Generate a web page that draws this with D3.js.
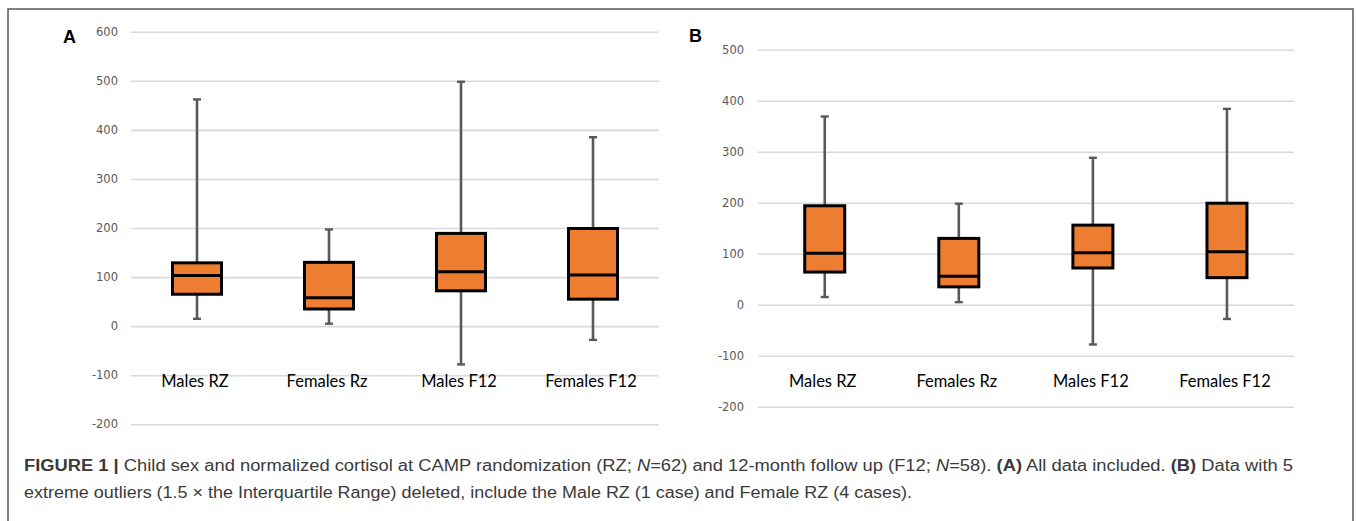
<!DOCTYPE html>
<html>
<head>
<meta charset="utf-8">
<script src="https://cdn.jsdelivr.net/npm/d3@7"></script>
<style>
  html, body { margin: 0; padding: 0; background: #fff; }
  svg { display: block; }
</style>
</head>
<body>
<svg id="chart" width="1357" height="521"></svg>
<script>
// ---- Data ----
const categories = ["Males RZ", "Females Rz", "Males F12", "Females F12"];

// Panel A: all data included
const aMin    = [15, 5, -78, -28];
const aQ1     = [65, 35, 72, 55];
const aMedian = [103, 58, 111, 104];
const aQ3     = [129, 130, 189, 199];
const aMax    = [462, 197, 498, 385];
const aTicks  = [-200, -100, 0, 100, 200, 300, 400, 500, 600];

// Panel B: extreme outliers deleted
const bMin    = [15, 5, -78, -28];
const bQ1     = [64, 35, 72, 53];
const bMedian = [101, 56, 102, 104];
const bQ3     = [194, 130, 156, 199];
const bMax    = [369, 198, 288, 384];
const bTicks  = [-200, -100, 0, 100, 200, 300, 400, 500];

const svg = d3.select("#chart");

// Outer frame (open at bottom)
svg.append("path")
  .attr("d", "M8,521 L8,9 L1353,9 L1353,521")
  .attr("fill", "none")
  .attr("stroke", "#555")
  .attr("stroke-width", 1.5);

function drawPanel(opt) {
  const g = svg.append("g");
  const y = d3.scaleLinear().domain(opt.domain).range(opt.yRange);
  const x = d3.scaleBand().domain(categories).range(opt.xRange);

  // gridlines + tick labels via axis
  const axis = d3.axisLeft(y).tickValues(opt.ticks)
    .tickSize(-(opt.xRange[1] - opt.xRange[0]))
    .tickPadding(opt.xRange[0] - opt.labelRight)
    .tickFormat(d => String(d));
  const ag = g.append("g")
    .attr("transform", `translate(${opt.xRange[0]},0)`)
    .call(axis);
  ag.select(".domain").remove();
  ag.selectAll(".tick line")
    .attr("stroke", "#d9d9d9")
    .attr("stroke-width", 1.6);
  ag.selectAll(".tick text")
    .attr("fill", "#595959")
    .attr("font-family", "DejaVu Sans, sans-serif")
    .attr("font-size", 11.5);

  const data = categories.map((c, i) => ({
    c, min: opt.min[i], q1: opt.q1[i], med: opt.med[i], q3: opt.q3[i], max: opt.max[i]
  }));

  const cx = d => x(d.c) + x.bandwidth() / 2;

  // whiskers
  g.selectAll(".whisker").data(data).enter().append("line")
    .attr("x1", cx).attr("x2", cx)
    .attr("y1", d => y(d.max)).attr("y2", d => y(d.min))
    .attr("stroke", "#595959").attr("stroke-width", 2.6);
  // caps
  ["max", "min"].forEach(k => {
    g.selectAll(".cap-" + k).data(data).enter().append("line")
      .attr("x1", d => cx(d) - 4).attr("x2", d => cx(d) + 4)
      .attr("y1", d => y(d[k])).attr("y2", d => y(d[k]))
      .attr("stroke", "#595959").attr("stroke-width", 2.4);
  });
  // boxes
  g.selectAll(".box").data(data).enter().append("rect")
    .attr("x", d => cx(d) - opt.boxW / 2)
    .attr("width", opt.boxW)
    .attr("y", d => y(d.q3))
    .attr("height", d => y(d.q1) - y(d.q3))
    .attr("fill", "#ED7D31")
    .attr("stroke", "#000")
    .attr("stroke-width", 3);
  // medians
  g.selectAll(".median").data(data).enter().append("line")
    .attr("x1", d => cx(d) - opt.boxW / 2).attr("x2", d => cx(d) + opt.boxW / 2)
    .attr("y1", d => y(d.med)).attr("y2", d => y(d.med))
    .attr("stroke", "#000").attr("stroke-width", 3);

  // category labels
  g.selectAll(".cat").data(data).enter().append("text")
    .attr("x", d => cx(d) - 2)
    .attr("y", opt.catY)
    .attr("text-anchor", "middle")
    .attr("font-family", "Lato, 'Open Sans', sans-serif")
    .attr("font-size", 16.5)
    .attr("fill", "#000")
    .text(d => d.c);

  // panel letter
  g.append("text")
    .attr("x", opt.letterX).attr("y", opt.letterY)
    .attr("font-family", "Liberation Sans, Arial, sans-serif")
    .attr("font-weight", "bold")
    .attr("font-size", 18)
    .attr("fill", "#000")
    .text(opt.letter);
}

drawPanel({
  letter: "A", letterX: 63, letterY: 42.5,
  domain: [-200, 600], yRange: [424.3, 31.7], xRange: [131, 659],
  ticks: aTicks, labelRight: 118, boxW: 49, catY: 386.5,
  min: aMin, q1: aQ1, med: aMedian, q3: aQ3, max: aMax
});

drawPanel({
  letter: "B", letterX: 689, letterY: 42,
  domain: [-200, 500], yRange: [406.7, 49.7], xRange: [757.7, 1294],
  ticks: bTicks, labelRight: 744, boxW: 40, catY: 386.5,
  min: bMin, q1: bQ1, med: bMedian, q3: bQ3, max: bMax
});

// Caption
const cap = svg.append("g")
  .attr("font-family", "Liberation Sans, Arial, sans-serif")
  .attr("font-size", 16)
  .attr("fill", "#3a3a3a");

const line1 = cap.append("text").attr("x", 24).attr("y", 470.5)
  .attr("textLength", 1269).attr("lengthAdjust", "spacingAndGlyphs");
[
  ["FIGURE 1 | ", "bold", "normal"],
  ["Child sex and normalized cortisol at CAMP randomization (RZ; ", "normal", "normal"],
  ["N", "normal", "italic"],
  ["=62) and 12-month follow up (F12; ", "normal", "normal"],
  ["N", "normal", "italic"],
  ["=58). ", "normal", "normal"],
  ["(A)", "bold", "normal"],
  [" All data included. ", "normal", "normal"],
  ["(B)", "bold", "normal"],
  [" Data with 5", "normal", "normal"]
].forEach(([t, w, s]) => line1.append("tspan").attr("font-weight", w).attr("font-style", s).text(t));

cap.append("text").attr("x", 24).attr("y", 497.5)
  .attr("textLength", 888).attr("lengthAdjust", "spacingAndGlyphs")
  .text("extreme outliers (1.5 \u00d7 the Interquartile Range) deleted, include the Male RZ (1 case) and Female RZ (4 cases).");
</script>
</body>
</html>
